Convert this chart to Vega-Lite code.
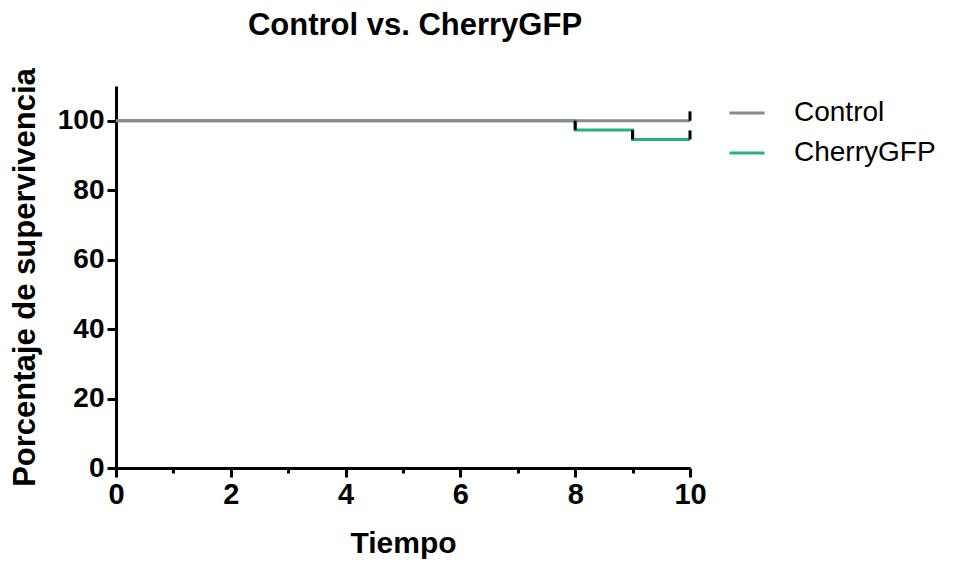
{
  "$schema": "https://vega.github.io/schema/vega-lite/v6.json",
  "width": 574,
  "height": 382,
  "autosize": {"type": "none"},
  "padding": {"left": 116, "top": 86, "right": 269, "bottom": 94},
  "background": "white",
  "config": {
    "view": {"stroke": null},
    "font": "Liberation Sans"
  },
  "title": {
    "text": "Control vs. CherryGFP",
    "fontSize": 31,
    "fontWeight": "bold",
    "font": "Liberation Sans",
    "color": "black",
    "anchor": "middle",
    "dx": 12,
    "offset": 26
  },
  "datasets": {
    "curves": [
      {"group": "CherryGFP", "tiempo": 0, "surv": 100},
      {"group": "CherryGFP", "tiempo": 8, "surv": 97.3},
      {"group": "CherryGFP", "tiempo": 9, "surv": 94.6},
      {"group": "CherryGFP", "tiempo": 10, "surv": 94.6},
      {"group": "Control", "tiempo": 0, "surv": 100},
      {"group": "Control", "tiempo": 10, "surv": 100}
    ],
    "marks": [
      {"group": "CherryGFP", "tiempo": 8, "lo": 97.3, "hi": 100},
      {"group": "CherryGFP", "tiempo": 9, "lo": 94.6, "hi": 97.3},
      {"group": "CherryGFP", "tiempo": 10, "lo": 94.6, "hi": 97.2},
      {"group": "Control", "tiempo": 10, "lo": 100, "hi": 102.7}
    ]
  },
  "layer": [
    {
      "data": {"name": "curves"},
      "transform": [{"filter": "datum.group === 'CherryGFP'"}],
      "mark": {"type": "line", "interpolate": "step-after", "strokeWidth": 3},
      "encoding": {
        "x": {
          "field": "tiempo", "type": "quantitative",
          "scale": {"domain": [0, 10], "nice": false},
          "axis": {
            "title": "Tiempo",
            "values": [0, 1, 2, 3, 4, 5, 6, 7, 8, 9, 10],
            "format": "d",
            "labelExpr": "datum.value % 2 === 0 ? datum.label : ''",
            "labelFlush": false,
            "labelOverlap": false,
            "tickSize": {"condition": {"test": "datum.value % 2 === 1", "value": 5}, "value": 9},
            "grid": false,
            "domainColor": "black", "domainWidth": 3,
            "tickColor": "black", "tickWidth": 3,
            "labelFontSize": 29, "labelFontWeight": "bold", "labelColor": "black",
            "labelPadding": 3,
            "titleFontSize": 30, "titleFontWeight": "bold", "titleColor": "black",
            "titlePadding": 19
          }
        },
        "y": {
          "field": "surv", "type": "quantitative",
          "scale": {"domain": [0, 110], "nice": false},
          "axis": {
            "title": "Porcentaje de supervivencia",
            "values": [0, 10, 20, 30, 40, 50, 60, 70, 80, 90, 100],
            "format": "d",
            "labelExpr": "datum.value % 20 === 0 ? datum.label : ''",
            "labelFlush": false,
            "labelOverlap": false,
            "tickSize": {"condition": {"test": "datum.value % 20 === 10", "value": 5}, "value": 9},
            "grid": false,
            "domainColor": "black", "domainWidth": 3,
            "tickColor": "black", "tickWidth": 3,
            "labelFontSize": 28, "labelFontWeight": "bold", "labelColor": "black",
            "labelPadding": 3,
            "titleFontSize": 31, "titleFontWeight": "bold", "titleColor": "black",
            "titlePadding": 16
          }
        },
        "color": {
          "field": "group", "type": "nominal",
          "scale": {"domain": ["Control", "CherryGFP"], "range": ["#8a8a8a", "#22b47c"]},
          "legend": {
            "title": null,
            "orient": "none",
            "legendX": 612,
            "legendY": 8,
            "symbolType": "stroke",
            "symbolSize": 1225,
            "symbolStrokeWidth": 3,
            "labelFontSize": 28,
            "labelColor": "black",
            "labelOffset": 28,
            "rowPadding": 7
          }
        }
      }
    },
    {
      "data": {"name": "curves"},
      "transform": [{"filter": "datum.group === 'Control'"}],
      "mark": {"type": "line", "interpolate": "step-after", "strokeWidth": 3},
      "encoding": {
        "x": {"field": "tiempo", "type": "quantitative"},
        "y": {"field": "surv", "type": "quantitative"},
        "color": {"field": "group", "type": "nominal"}
      }
    },
    {
      "data": {"name": "marks"},
      "mark": {"type": "rule", "color": "black", "strokeWidth": 3},
      "encoding": {
        "x": {"field": "tiempo", "type": "quantitative"},
        "y": {"field": "lo", "type": "quantitative"},
        "y2": {"field": "hi"}
      }
    }
  ]
}
